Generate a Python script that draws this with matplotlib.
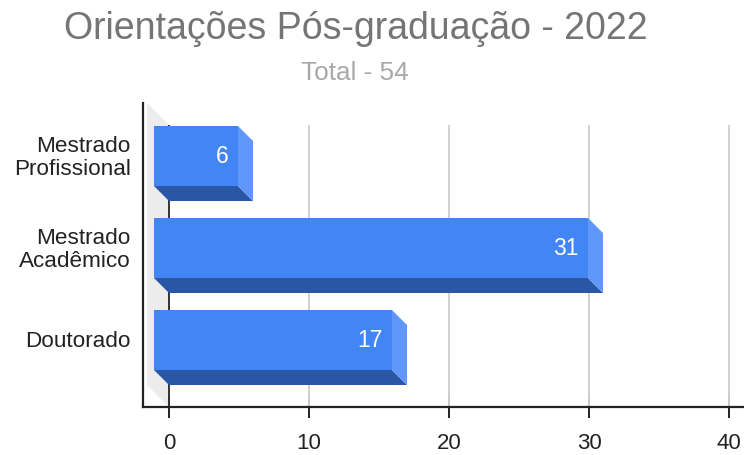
import matplotlib
matplotlib.use("Agg")
import matplotlib.pyplot as plt
from matplotlib.patches import Polygon
from matplotlib.transforms import ScaledTranslation

categories = ["Doutorado", "Mestrado\nAcadêmico", "Mestrado\nProfissional"]
values = [17, 31, 6]
x_ticks = [0, 10, 20, 30, 40]

plt.rcParams["font.family"] = ["Liberation Sans", "DejaVu Sans"]

W, H = 744, 456
fig = plt.figure(figsize=(W / 100, H / 100), dpi=100)
ax = fig.add_axes([143 / W, 1 - 408 / H, (W - 143) / W, (408 - 104) / H])

# pixels per unit: 14 on x, 92 on y
ax.set_xlim(-26 / 14, (W - 169) / 14)
ax.set_ylim(-67 / 92, 237 / 92)

dx = 15 / 14
dy = 15 / 92
half = 30 / 92
top = 215 / 92

# back wall
wall = Polygon([(-22 / 14, 237 / 92), (0, top), (0, -67 / 92), (-22 / 14, -45 / 92)],
               facecolor="#ececec", edgecolor="none", zorder=1)
ax.add_patch(wall)

# grid
ax.vlines(x_ticks[1:], -67 / 92, top, color="#d0d0d0", linewidth=1.4, zorder=2)
ax.vlines(0, -67 / 92, top, color="#333333", linewidth=1.4, zorder=2)

# 3d bars
for i, v in enumerate(values):
    x0 = -dx
    x1 = v - dx
    ax.add_patch(Polygon([(x0, i - half), (x1, i - half), (v, i - half - dy), (0, i - half - dy)],
                         facecolor="#2a56a6", edgecolor="none", zorder=3))
    ax.add_patch(Polygon([(x1, i + half), (v, i + half - dy), (v, i - half - dy), (x1, i - half)],
                         facecolor="#6097f8", edgecolor="none", zorder=3))
    ax.add_patch(Polygon([(x0, i + half), (x1, i + half), (x1, i - half), (x0, i - half)],
                         facecolor="#4285f4", edgecolor="none", zorder=4))
    ax.text(x1 - 0.7, i + 0.01, str(v), color="white", fontsize=16.5, ha="right", va="center", zorder=5)

for s in ["top", "right"]:
    ax.spines[s].set_visible(False)
for s in ["left", "bottom"]:
    ax.spines[s].set_color("#222222")
    ax.spines[s].set_linewidth(1.6)

ax.set_xticks(x_ticks)
ax.set_yticks(range(len(categories)))
ax.set_yticklabels(categories, linespacing=1.08)
ax.tick_params(axis="x", direction="inout", length=16.5, width=1.4, color="#222222",
               labelsize=16, labelcolor="#222222", pad=9.6)
ax.tick_params(axis="y", length=0, labelsize=16.2, labelcolor="#222222", pad=9)

# move the category labels up a little
up = ScaledTranslation(0, 2 / 100, fig.dpi_scale_trans)
for label in ax.get_yticklabels():
    label.set_transform(label.get_transform() + up)

fig.text(356 / W, 1 - 29 / H, "Orientações Pós-graduação - 2022", color="#757575",
         fontsize=27, ha="center", va="center")
fig.text(355 / W, 1 - 73 / H, "Total - 54", color="#a8a8a8", fontsize=18.8, ha="center", va="center")

fig.savefig("out.png", dpi=100)
